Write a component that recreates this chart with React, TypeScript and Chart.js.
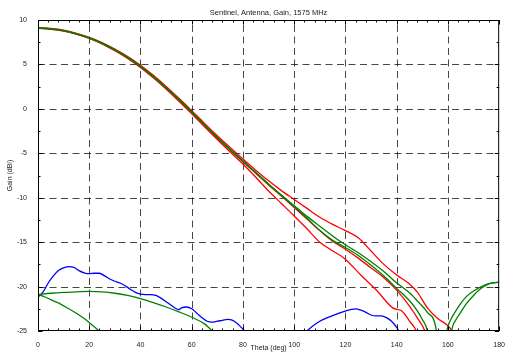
import { useEffect, useRef } from "react";
import { Chart, registerables } from "chart.js";

Chart.register(...registerables);

// Axis tick values
const thetaTicks = [0, 20, 40, 60, 80, 100, 120, 140, 160, 180];
const gainTicks = [-25, -20, -15, -10, -5, 0, 5, 10];
const thetaMinorStep = 4;
const gainMinorStep = 2.5;

const titleText = "Sentinel, Antenna, Gain, 1575 MHz";
const xTitle = "Theta (deg)";
const yTitle = "Gain (dBi)";

// Main-lobe gain, green traces
const greenUpperTheta = [0, 5, 10, 15, 20, 25, 30, 35, 40, 45, 50, 55, 60, 65, 70, 75, 80, 85, 90, 95, 100, 105, 110, 115, 120, 125, 130, 135, 140, 145, 148, 152, 155.5, 158.5, 161.5, 163, 165, 167, 170, 173, 176, 180];
const greenUpperGain = [9.1, 9.0, 8.8, 8.45, 8.0, 7.4, 6.65, 5.8, 4.8, 3.65, 2.4, 1.05, -0.35, -1.8, -3.2, -4.55, -5.85, -7.15, -8.45, -9.7, -10.9, -12.1, -13.2, -14.3, -15.3, -16.2, -17.2, -18.3, -19.6, -20.7, -21.6, -22.9, -25.0, -35, -25.0, -23.8, -22.9, -22.0, -21.0, -20.2, -19.7, -19.5];

const greenLowerTheta = [0, 5, 10, 15, 20, 25, 30, 35, 40, 45, 50, 55, 60, 65, 70, 75, 80, 85, 90, 95, 100, 105, 110, 115, 120, 125, 130, 135, 140, 145, 148, 150, 152, 154, 156, 159.6, 161, 163.4, 165, 167.3, 170, 175, 180];
const greenLowerGain = [9.1, 9.0, 8.8, 8.44, 7.98, 7.37, 6.62, 5.77, 4.77, 3.62, 2.37, 1.02, -0.38, -1.83, -3.24, -4.6, -5.9, -7.2, -8.5, -9.76, -11.0, -12.3, -13.7, -14.8, -15.6, -16.5, -17.6, -18.8, -20.2, -21.6, -22.7, -23.7, -25.0, -29, -35, -25.0, -23.8, -22.6, -21.9, -21.1, -20.5, -19.75, -19.5];

// Main-lobe gain, red traces
const redUpperTheta = [0, 5, 10, 15, 20, 25, 30, 35, 40, 45, 50, 55, 60, 65, 70, 75, 80, 85, 90, 95, 100, 105, 110, 115, 120, 125, 130, 135, 140, 145, 148, 152, 156, 159.5, 161.5, 163];
const redUpperGain = [9.15, 9.05, 8.85, 8.5, 8.05, 7.46, 6.72, 5.88, 4.9, 3.77, 2.53, 1.19, -0.2, -1.63, -3.02, -4.36, -5.65, -6.9, -8.1, -9.2, -10.2, -11.2, -12.2, -13.0, -13.7, -14.5, -16.0, -17.5, -18.7, -19.7, -20.6, -22.4, -23.6, -24.3, -25.0, -26.5];

const redMiddleTheta = [0, 5, 10, 15, 20, 25, 30, 35, 40, 45, 50, 55, 60, 65, 70, 75, 80, 85, 90, 95, 100, 105, 110, 115, 120, 125, 130, 135, 140, 145, 148, 151, 153];
const redMiddleGain = [9.08, 8.98, 8.77, 8.42, 7.95, 7.35, 6.6, 5.75, 4.75, 3.6, 2.35, 0.99, -0.42, -1.87, -3.28, -4.64, -5.95, -7.25, -8.56, -9.82, -11.1, -12.4, -13.7, -14.9, -15.8, -16.8, -17.9, -19.0, -20.4, -22.2, -23.5, -25.0, -27];

const redLowerTheta = [0, 5, 10, 15, 20, 25, 30, 35, 40, 45, 50, 55, 60, 65, 70, 75, 80, 85, 90, 95, 100, 105, 110, 114, 119.5, 126, 132.4, 138.5, 142, 145.3, 147.6, 149];
const redLowerGain = [9.05, 8.95, 8.75, 8.4, 7.93, 7.32, 6.55, 5.68, 4.67, 3.5, 2.23, 0.85, -0.55, -2.02, -3.45, -4.85, -6.2, -7.7, -9.25, -10.65, -12.05, -13.5, -15.0, -15.8, -16.8, -18.7, -20.5, -22.4, -22.75, -24.0, -25.0, -26.5];

// Low-level green traces near the bottom
const greenFlatTheta = [0, 5, 10, 15, 20, 25, 30, 35, 40, 45, 50, 55, 60, 65, 68, 70];
const greenFlatGain = [-20.9, -20.75, -20.65, -20.6, -20.55, -20.6, -20.75, -21.0, -21.35, -21.8, -22.3, -22.85, -23.45, -24.2, -25.0, -25.6];

const greenDropTheta = [0, 3, 6, 9, 12, 15, 18, 21, 24, 26];
const greenDropGain = [-20.9, -21.2, -21.6, -22.0, -22.5, -23.0, -23.6, -24.3, -25.05, -25.7];

// Low-level blue traces
const blueLeftTheta = [0, 2, 4, 6, 8, 10, 12, 14, 16, 18, 20, 22, 24, 26, 28, 30, 32, 34, 36, 38, 40, 42, 44, 46, 48, 50, 52, 54, 55, 56, 58, 60, 62, 64, 66, 68, 70, 72, 74, 76, 78, 80, 81, 82];
const blueLeftGain = [-21.2, -20.6, -19.6, -18.8, -18.2, -17.9, -17.75, -17.85, -18.2, -18.45, -18.55, -18.5, -18.5, -18.8, -19.15, -19.4, -19.6, -19.9, -20.3, -20.65, -20.85, -20.9, -20.9, -21.0, -21.3, -21.7, -22.1, -22.5, -22.6, -22.4, -22.3, -22.5, -23.0, -23.5, -23.9, -24.0, -23.9, -23.8, -23.7, -23.8, -24.2, -24.8, -25.1, -25.6];

const blueRightTheta = [104, 105, 107, 110, 113, 116, 119, 122, 124, 126, 128, 130, 132, 134, 136, 138, 140, 141, 142];
const blueRightGain = [-25.4, -25.0, -24.5, -23.9, -23.5, -23.15, -22.85, -22.6, -22.5, -22.65, -22.9, -23.2, -23.3, -23.3, -23.5, -23.9, -24.6, -25.1, -25.6];

const RED = "#ff0000";
const GREEN = "#008000";
const BLUE = "#0000ff";
const TEXT = "#1a1a1a";
const FONT = '"Liberation Sans", Arial, Helvetica, sans-serif';

function points(theta: number[], gain: number[]) {
  return theta.map((t, i) => ({ x: t, y: gain[i] }));
}

function trace(theta: number[], gain: number[], color: string) {
  return {
    data: points(theta, gain),
    borderColor: color,
    backgroundColor: color,
    borderWidth: 1.3,
    pointRadius: 0,
    fill: false,
    cubicInterpolationMode: "monotone" as const,
    clip: 0,
  };
}

// Dashed grid, boxed axes with inward ticks, and the plot title
const framePlugin = {
  id: "frame",
  beforeDatasetsDraw(chart: any) {
    const { ctx, chartArea, scales } = chart;
    const { left, right, top, bottom } = chartArea;
    const xs = scales.x;
    const ys = scales.y;
    ctx.save();
    ctx.strokeStyle = "rgba(0,0,0,0.72)";
    ctx.lineWidth = 1;
    ctx.setLineDash([7, 4.5]);
    for (const v of thetaTicks) {
      if (v === thetaTicks[0] || v === thetaTicks[thetaTicks.length - 1]) continue;
      const px = Math.round(xs.getPixelForValue(v)) + 0.5;
      ctx.beginPath();
      ctx.moveTo(px, bottom);
      ctx.lineTo(px, top);
      ctx.stroke();
    }
    for (const v of gainTicks) {
      if (v === gainTicks[0] || v === gainTicks[gainTicks.length - 1]) continue;
      const py = Math.round(ys.getPixelForValue(v)) + 0.5;
      ctx.beginPath();
      ctx.moveTo(left, py);
      ctx.lineTo(right, py);
      ctx.stroke();
    }
    ctx.restore();
  },
  afterDraw(chart: any) {
    const { ctx, chartArea, scales } = chart;
    const { left, right, top, bottom } = chartArea;
    const xs = scales.x;
    const ys = scales.y;
    ctx.save();
    ctx.strokeStyle = "#000";
    ctx.lineWidth = 1;
    ctx.setLineDash([]);
    ctx.strokeRect(left + 0.5, top + 0.5, right - left - 1, bottom - top - 1);

    const major = 4.5;
    const minor = 2.5;
    ctx.beginPath();
    const xMin = thetaTicks[0];
    const xMax = thetaTicks[thetaTicks.length - 1];
    for (let v = xMin; v <= xMax + 1e-9; v += thetaMinorStep) {
      const len = thetaTicks.includes(v) ? major : minor;
      const px = Math.round(xs.getPixelForValue(v)) + 0.5;
      ctx.moveTo(px, bottom);
      ctx.lineTo(px, bottom - len);
      ctx.moveTo(px, top);
      ctx.lineTo(px, top + len);
    }
    const yMin = gainTicks[0];
    const yMax = gainTicks[gainTicks.length - 1];
    for (let v = yMin; v <= yMax + 1e-9; v += gainMinorStep) {
      const len = gainTicks.includes(v) ? major : minor;
      const py = Math.round(ys.getPixelForValue(v)) + 0.5;
      ctx.moveTo(left, py);
      ctx.lineTo(left + len, py);
      ctx.moveTo(right, py);
      ctx.lineTo(right - len, py);
    }
    ctx.stroke();

    ctx.fillStyle = TEXT;
    ctx.font = `7.5px ${FONT}`;
    ctx.textAlign = "center";
    ctx.textBaseline = "alphabetic";
    ctx.fillText(titleText, (left + right) / 2, 15);
    ctx.restore();
  },
};

export default function App() {
  const canvasRef = useRef<HTMLCanvasElement | null>(null);

  useEffect(() => {
    const canvas = canvasRef.current;
    if (!canvas) return;
    const chart = new Chart(canvas, {
      type: "line",
      data: {
        datasets: [
          trace(greenUpperTheta, greenUpperGain, GREEN),
          trace(greenLowerTheta, greenLowerGain, GREEN),
          trace(greenFlatTheta, greenFlatGain, GREEN),
          trace(greenDropTheta, greenDropGain, GREEN),
          trace(redUpperTheta, redUpperGain, RED),
          trace(redMiddleTheta, redMiddleGain, RED),
          trace(redLowerTheta, redLowerGain, RED),
          trace(blueLeftTheta, blueLeftGain, BLUE),
          trace(blueRightTheta, blueRightGain, BLUE),
        ],
      },
      options: {
        animation: false,
        responsive: false,
        devicePixelRatio: 1,
        layout: { padding: { left: 0, right: 5, top: 20, bottom: 0 } },
        plugins: {
          legend: { display: false },
          title: { display: false },
          tooltip: { enabled: false },
        },
        scales: {
          x: {
            type: "linear",
            min: 0,
            max: 180,
            grid: { display: false },
            border: { display: false },
            afterFit: (s: any) => {
              s.height = 22;
            },
            afterBuildTicks: (s: any) => {
              s.ticks = thetaTicks.map((v) => ({ value: v }));
            },
            ticks: {
              autoSkip: false,
              maxRotation: 0,
              padding: 2,
              color: TEXT,
              font: { family: FONT, size: 7 },
            },
            title: {
              display: true,
              text: xTitle,
              color: TEXT,
              font: { family: FONT, size: 7 },
              padding: { top: 0, bottom: 1 },
            },
          },
          y: {
            type: "linear",
            min: -25,
            max: 10,
            grid: { display: false },
            border: { display: false },
            afterFit: (s: any) => {
              s.width = 38;
            },
            afterBuildTicks: (s: any) => {
              s.ticks = gainTicks.map((v) => ({ value: v }));
            },
            ticks: {
              autoSkip: false,
              padding: 3,
              color: TEXT,
              font: { family: FONT, size: 7 },
            },
            title: {
              display: true,
              text: yTitle,
              color: TEXT,
              font: { family: FONT, size: 7 },
              padding: { top: 6, bottom: 0 },
            },
          },
        },
      },
      plugins: [framePlugin],
    });
    return () => chart.destroy();
  }, []);

  return (
    <div style={{ position: "absolute", left: 0, top: 0, width: 507, height: 353, background: "#fff" }}>
      <canvas ref={canvasRef} width={507} height={353} style={{ display: "block" }} />
    </div>
  );
}
